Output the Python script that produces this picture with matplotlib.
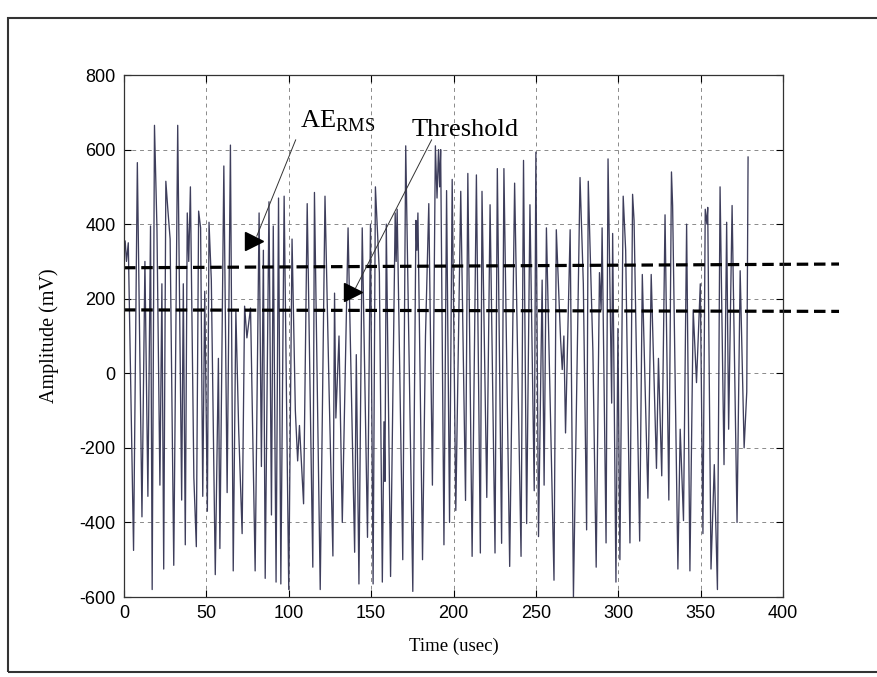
import matplotlib
matplotlib.use("Agg")
import matplotlib.pyplot as plt
from matplotlib.patches import Rectangle

# ---------------- data ----------------
time_us = [
    0.0, 0.7, 1.5, 2.6, 5.8, 8.1, 10.9, 12.7, 14.5, 16.1, 17.1, 18.5, 20.0, 21.8,
    23.0, 24.1, 25.4, 26.6, 28.0, 30.2, 32.6, 35.0, 36.0, 37.2, 38.4, 39.3, 40.3,
    42.4, 43.9, 45.3, 46.5, 47.8, 49.0, 50.6, 51.6, 53.0, 55.4, 57.3, 58.2, 60.6,
    62.6, 64.6, 66.3, 67.9, 69.6, 71.7, 73.2, 74.6, 76.8, 79.6, 82.0, 83.4, 84.6,
    85.7, 88.0, 89.5, 90.6, 92.3, 93.8, 95.2, 97.2, 100.0, 102.0, 104.0, 105.4,
    106.5, 109.0, 111.2, 114.6, 115.6, 119.1, 122.0, 124.5, 126.8, 127.8, 128.6,
    130.5, 132.5, 136.0, 140.0, 141.0, 142.6, 144.6, 147.8, 149.6, 151.2, 152.6,
    155.0, 156.8, 157.8, 158.4, 159.2, 161.8, 164.6, 165.2, 165.8, 169.2, 171.0,
    175.3, 177.2, 177.8, 178.4, 181.2, 183.0, 185.0, 187.2, 189.0, 190.0, 190.9,
    191.6, 192.2, 194.2, 195.8, 197.6, 199.2, 201.4, 204.4, 207.3, 208.7, 211.3,
    213.9, 216.3, 217.3, 220.2, 222.2, 225.2, 226.6, 229.2, 230.6, 234.1, 237.1,
    241.0, 242.5, 244.4, 246.4, 249.0, 250.0, 251.6, 253.8, 255.0, 256.4, 261.0,
    262.4, 265.0, 266.0, 267.0, 268.0, 270.8, 272.8, 276.8, 278.8, 280.8, 281.8,
    284.6, 286.6, 288.6, 289.6, 290.2, 292.6, 293.8, 296.0, 296.6, 298.6, 299.8,
    301.0, 303.0, 304.5, 307.1, 308.7, 309.6, 313.0, 314.6, 318.0, 320.0, 323.2,
    324.4, 326.4, 328.4, 330.7, 332.3, 333.0, 336.2, 337.6, 339.6, 341.5, 343.5,
    345.5, 347.5, 349.8, 351.4, 352.8, 353.8, 354.3, 356.3, 358.3, 360.2, 361.8,
    364.2, 365.8, 367.0, 369.1, 372.1, 374.0, 376.4, 378.0, 378.8,
]
amp_mv = [
    330, 355, 300, 350, -475, 565, -385, 300, -330, 395, -580, 665, 390, -300,
    240, -525, 515, 440, 360, -515, 665, -340, 240, -460, 430, 300, 500,
    -280, -465, 435, 390, -330, 220, -370, 405, 250, -540, 40, -470, 556,
    -320, 612, -530, 166, -150, -430, 180, 95, 175, -530, 430, -250, 330,
    -550, 460, -380, 395, -560, 470, -565, 475, -580, 360, -100, -235,
    -140, -350, 455, -520, 485, -580, 475, -50, -490, 215, -120,
    100, -400, 390, -480, 50, -565, 390, -440, 400, -565, 500,
    270, -560, -130, -290, 400, -545, 430, 300, 440, -500, 610,
    -585, 410, 330, 430, -500, 100, 455, -300, 610, 470, 600,
    500, 600, -460, 490, -400, 520, -368, 488, -341, 536, -491,
    532, -482, 488, -333, 452, -482, 549, -456, 549, -518, 510,
    -491, 571, -403, 452, -315, 593, -438, 250, -300, 390, -555,
    385, 90, 10, 100, -160, 385, -600, 525, 240, -420, 515,
    60, -520, 270, 170, 390, -455, 575, -80, 375, -560, 120,
    -500, 475, 330, -455, 480, 410, -450, 265, -335, 265, -255,
    40, -275, 425, -340, 540, 450, -525, -150, -395, 400, -530,
    170, -25, 240, -430, 440, 400, 445, -525, -245, -580, 500,
    -245, 405, -150, 450, -400, 275, -200, -50, 580,
]

rms_time = [0, 434]
rms_level = [283, 293]
thr_time = [0, 434]
thr_level = [170, 166]

xticks = [0, 50, 100, 150, 200, 250, 300, 350, 400]
yticks = [-600, -400, -200, 0, 200, 400, 600, 800]

# ---------------- figure ----------------
plt.rcParams["mathtext.fontset"] = "custom"
plt.rcParams["mathtext.rm"] = "Liberation Serif"
plt.rcParams["axes.unicode_minus"] = False

W, H = 877, 677
fig = plt.figure(figsize=(W / 100, H / 100), dpi=100)
fig.patch.set_facecolor("white")

left, right, top, bottom = 124, 783, 75, 597
ax = fig.add_axes([left / W, 1 - bottom / H, (right - left) / W, (bottom - top) / H])

ax.plot(time_us, amp_mv, color="#3e3e5c", lw=0.95)
dash = (0, (3.6, 1.8))
ax.plot(rms_time, rms_level, color="black", lw=2.3, ls=dash, clip_on=False)
ax.plot(thr_time, thr_level, color="black", lw=2.3, ls=dash, clip_on=False)

ax.set_xlim(0, 400)
ax.set_ylim(-600, 800)
ax.set_xticks(xticks)
ax.set_yticks(yticks)
ax.grid(True, color="#8a8a8a", lw=0.7, ls=(0, (4, 4)))
ax.tick_params(direction="in", top=True, right=True, length=5, width=0.8,
               labelsize=13, pad=6)
for lab in ax.get_xticklabels() + ax.get_yticklabels():
    lab.set_fontfamily("Liberation Sans")
for sp in ax.spines.values():
    sp.set_linewidth(0.9)
    sp.set_color("#333333")

ax.set_xlabel("Time (usec)", fontfamily="Liberation Serif", fontsize=13.5, labelpad=11)
ax.set_ylabel("Amplitude (mV)", fontfamily="Liberation Serif", fontsize=14.5, labelpad=15)

# annotations
ax.text(107, 660, r"AE$_{\rm RMS}$", fontfamily="Liberation Serif", fontsize=19,
        va="baseline", ha="left")
ax.text(174.5, 636, "Threshold", fontfamily="Liberation Serif", fontsize=19,
        va="baseline", ha="left")

ax.plot([104.2, 80.6], [626, 368], color="#333333", lw=0.7)
ax.plot([79.0], [355], marker=">", color="black", ms=13.5, clip_on=False)
ax.plot([186.7, 140.6], [626, 229], color="#333333", lw=0.7)
ax.plot([139.0], [217], marker=">", color="black", ms=13.5, clip_on=False)

# outer frame
fig.add_artist(Rectangle((8 / W, 1 - 672 / H), (W + 10) / W, (672 - 18) / H,
                         transform=fig.transFigure, fill=False, lw=1.5,
                         edgecolor="#333333"))

fig.savefig("out.png", dpi=100)
